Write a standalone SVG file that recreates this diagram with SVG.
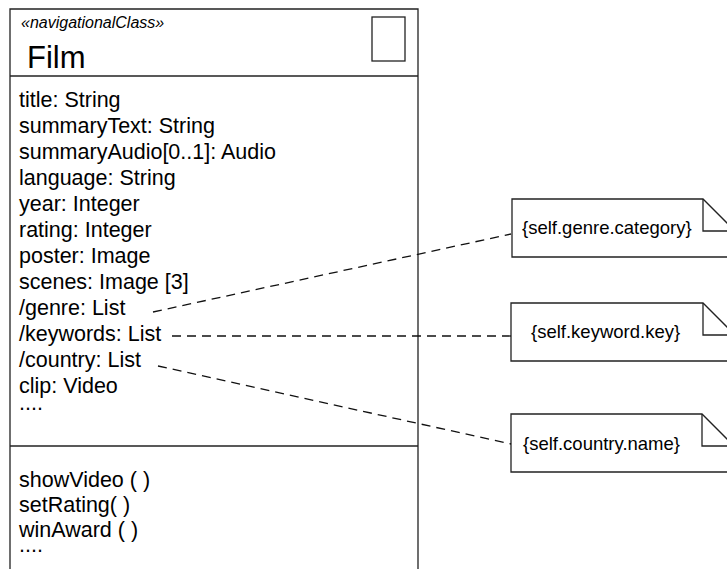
<svg xmlns="http://www.w3.org/2000/svg" width="727" height="569" viewBox="0 0 727 569">
  <style>
    .frame { fill: #ffffff; stroke: #222222; stroke-width: 1.3; }
    .line { fill: none; stroke: #222222; stroke-width: 1.3; }
    .dash { fill: none; stroke: #111111; stroke-width: 1.3; stroke-dasharray: 9 6; }
    .txt { font-family: "Liberation Sans", Arial, sans-serif; fill: #000000; }
    .attr { font-size: 21.5px; }
    .stereo { font-size: 16px; font-style: italic; }
    .name { font-size: 31px; }
    .note { font-size: 18.5px; }
  </style>

  <!-- Film class: header, attributes, operations (box runs off the bottom) -->
  <g id="film">
    <path class="frame" d="M10,590 V9 H418 V590"/>
    <line class="line" x1="10" y1="76" x2="418" y2="76"/>
    <line class="line" x1="10" y1="446" x2="418" y2="446"/>
    <rect class="line" x="372" y="17" width="33" height="44"/>
    <text class="txt stereo" x="21" y="28">«navigationalClass»</text>
    <text class="txt name" x="27" y="68">Film</text>
    <text class="txt attr" x="19" y="107">title: String</text>
    <text class="txt attr" x="19" y="133">summaryText: String</text>
    <text class="txt attr" x="19" y="159">summaryAudio[0..1]: Audio</text>
    <text class="txt attr" x="19" y="185">language: String</text>
    <text class="txt attr" x="19" y="211">year: Integer</text>
    <text class="txt attr" x="19" y="237">rating: Integer</text>
    <text class="txt attr" x="19" y="263">poster: Image</text>
    <text class="txt attr" x="19" y="289">scenes: Image [3]</text>
    <text class="txt attr" x="19" y="315">/genre: List</text>
    <text class="txt attr" x="19" y="341">/keywords: List</text>
    <text class="txt attr" x="19" y="367">/country: List</text>
    <text class="txt attr" x="19" y="393">clip: Video</text>
    <text class="txt attr" x="19" y="410">....</text>
    <text class="txt attr" x="19" y="487">showVideo ( )</text>
    <text class="txt attr" x="19" y="512">setRating( )</text>
    <text class="txt attr" x="19" y="537">winAward ( )</text>
    <text class="txt attr" x="19" y="552">....</text>
  </g>

  <!-- constraint notes -->
  <g id="note-genre">
    <path class="frame" d="M512,199 H703 L735,231 V257 H512 Z"/>
    <path class="line" d="M703,199 V231 H735"/>
    <text class="txt note" x="522" y="234">{self.genre.category}</text>
  </g>
  <g id="note-keyword">
    <path class="frame" d="M511,303 H703 L735,335 V361 H511 Z"/>
    <path class="line" d="M703,303 V335 H735"/>
    <text class="txt note" x="531" y="338">{self.keyword.key}</text>
  </g>
  <g id="note-country">
    <path class="frame" d="M511,414 H702 L734,446 V472 H511 Z"/>
    <path class="line" d="M702,414 V446 H734"/>
    <text class="txt note" x="523" y="450">{self.country.name}</text>
  </g>

  <!-- dashed attachments from derived attributes to their notes -->
  <g id="connectors">
    <line class="dash" x1="153" y1="312" x2="511" y2="234"/>
    <line class="dash" x1="172" y1="336" x2="511" y2="336"/>
    <line class="dash" x1="158" y1="366" x2="511" y2="444"/>
  </g>
</svg>
